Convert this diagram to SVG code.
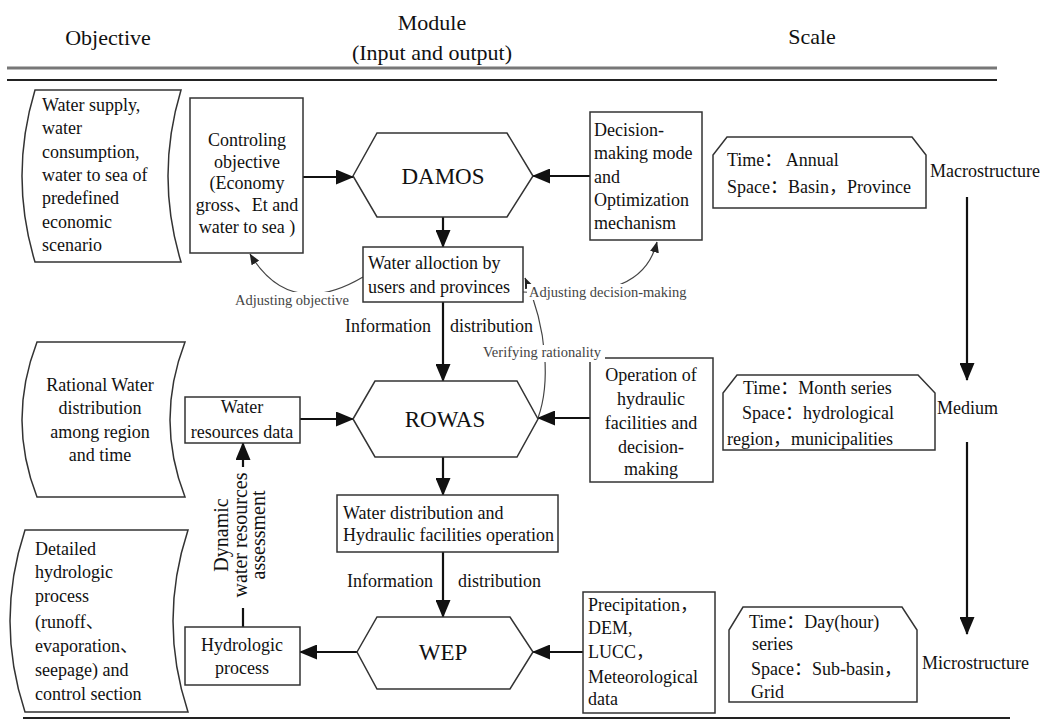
<svg xmlns="http://www.w3.org/2000/svg" width="1046" height="725" viewBox="0 0 1046 725">
<defs>
<style>
.box{fill:#fff;stroke:#333;stroke-width:1.5}
.t{font-family:"Liberation Serif","Noto Sans CJK SC",serif;font-size:18px;fill:#111}
.c{text-anchor:middle}
.big{font-size:23px}
.small{font-size:14.5px;fill:#444}
.hdr{font-size:22px}
.conn{stroke:#111;stroke-width:2.2;fill:none;marker-end:url(#ah)}
.curve{stroke:#444;stroke-width:1.2;fill:none;marker-end:url(#ahs)}
.plain{stroke:#111;stroke-width:2.2;fill:none}
.bg{fill:#fff}
</style>
<marker id="ah" viewBox="0 0 18 15" refX="17" refY="7.5" markerWidth="18" markerHeight="15" markerUnits="userSpaceOnUse" orient="auto"><path d="M0,0 L18,7.5 L0,15 Z" fill="#111"/></marker>
<marker id="ahs" viewBox="0 0 11 9" refX="10.5" refY="4.5" markerWidth="11" markerHeight="9" markerUnits="userSpaceOnUse" orient="auto"><path d="M0,0 L11,4.5 L0,9 Z" fill="#222"/></marker>
</defs>
<rect width="1046" height="725" fill="#fff"/>

<g id="header">
<text class="t hdr c" x="108" y="45">Objective</text>
<text class="t hdr c" x="432" y="30">Module</text>
<text class="t hdr c" x="432" y="60">(Input and output)</text>
<text class="t hdr c" x="812" y="44">Scale</text>
<line x1="7" y1="68" x2="997" y2="68" stroke="#777" stroke-width="3"/>
<line x1="7" y1="80" x2="997" y2="80" stroke="#222" stroke-width="2"/>
<line x1="23" y1="718" x2="1010" y2="718" stroke="#222" stroke-width="2"/>
</g>

<g id="connectors">
<path class="conn" d="M303,177 L353,177"/>
<path class="conn" d="M590,176 L533,176"/>
<path class="conn" d="M443,217 L443,247"/>
<path class="conn" d="M443,302 L443,381"/>
<path class="conn" d="M590,418 L538,418"/>
<path class="conn" d="M300,419 L353,419"/>
<path class="conn" d="M443,457 L443,495"/>
<path class="conn" d="M443,552 L443,617"/>
<path class="conn" d="M583,652 L533,652"/>
<path class="conn" d="M357,652 L300,652"/>
<path class="conn" d="M243,627 L243,443"/>
<path class="conn" d="M967,197 L967,380"/>
<path class="conn" d="M967,442 L967,634"/>
<path class="curve" d="M363,277 Q290,320 250,254"/>
<path class="curve" d="M523,292 C600,296 645,290 657,242"/>
<path class="curve" d="M538,418 C550,385 548,330 525,278"/>
</g>

<g id="obj1">
<path class="box" d="M35,90 L181,90 Q155,176 181,262 L35,262 Q9,176 35,90 Z"/>
<text class="t" x="42" y="111">Water supply,</text>
<text class="t" x="42" y="134">water</text>
<text class="t" x="42" y="158">consumption,</text>
<text class="t" x="42" y="181">water to sea of</text>
<text class="t" x="42" y="204">predefined</text>
<text class="t" x="42" y="228">economic</text>
<text class="t" x="42" y="251">scenario</text>
</g>

<g id="obj2">
<path class="box" d="M37,342 L185,342 Q155,420 185,497 L37,497 Q7,420 37,342 Z"/>
<text class="t c" x="100" y="391">Rational Water</text>
<text class="t c" x="100" y="414">distribution</text>
<text class="t c" x="100" y="438">among region</text>
<text class="t c" x="100" y="461">and time</text>
</g>

<g id="obj3">
<path class="box" d="M25,530 L188,530 Q158,621 188,712 L25,712 Q-5,621 25,530 Z"/>
<text class="t" x="35" y="555">Detailed</text>
<text class="t" x="35" y="578">hydrologic</text>
<text class="t" x="35" y="602">process</text>
<text class="t" x="35" y="628">(runoff、</text>
<text class="t" x="35" y="652">evaporation、</text>
<text class="t" x="35" y="676">seepage) and</text>
<text class="t" x="35" y="700">control section</text>
</g>

<g id="controling">
<rect class="box" x="190" y="98" width="113" height="155"/>
<text class="t c" x="247" y="146">Controling</text>
<text class="t c" x="247" y="168">objective</text>
<text class="t c" x="247" y="189">(Economy</text>
<text class="t c" x="247" y="211">gross、Et and</text>
<text class="t c" x="247" y="233">water to sea )</text>
</g>

<g id="damos">
<path class="box" d="M353,176 L377,133 L507,133 L533,176 L507,217 L377,217 Z"/>
<text class="t big c" x="443" y="184">DAMOS</text>
</g>

<g id="decision">
<rect class="box" x="590" y="112" width="112" height="128"/>
<text class="t" x="594" y="136">Decision-</text>
<text class="t" x="594" y="159">making mode</text>
<text class="t" x="594" y="183">and</text>
<text class="t" x="594" y="206">Optimization</text>
<text class="t" x="594" y="229">mechanism</text>
</g>

<g id="alloc">
<rect class="box" x="363" y="247" width="160" height="55"/>
<text class="t" x="368" y="269">Water alloction by</text>
<text class="t" x="368" y="293">users and provinces</text>
</g>

<g id="rowas">
<path class="box" d="M353,419 L375,381 L517,381 L538,419 L517,457 L375,457 Z"/>
<text class="t big c" x="445" y="427">ROWAS</text>
</g>

<g id="operation">
<rect class="box" x="590" y="358" width="123" height="124"/>
<text class="t c" x="651" y="381">Operation of</text>
<text class="t c" x="651" y="405">hydraulic</text>
<text class="t c" x="651" y="429">facilities and</text>
<text class="t c" x="651" y="453">decision-</text>
<text class="t c" x="651" y="475">making</text>
</g>

<g id="wrdata">
<rect class="box" x="185" y="397" width="115" height="46"/>
<text class="t c" x="242" y="413">Water</text>
<text class="t c" x="242" y="438">resources data</text>
</g>

<g id="wdist">
<rect class="box" x="337" y="495" width="221" height="57"/>
<text class="t" x="343" y="519">Water distribution and</text>
<text class="t" x="343" y="541">Hydraulic facilities operation</text>
</g>

<g id="wep">
<path class="box" d="M357,652 L377,617 L510,617 L533,652 L510,689 L377,689 Z"/>
<text class="t big c" x="443" y="660">WEP</text>
</g>

<g id="hydro">
<rect class="box" x="185" y="627" width="115" height="58"/>
<text class="t c" x="242" y="651">Hydrologic</text>
<text class="t c" x="242" y="674">process</text>
</g>

<g id="precip">
<rect class="box" x="583" y="592" width="132" height="121"/>
<text class="t" x="588" y="611">Precipitation，</text>
<text class="t" x="588" y="634">DEM,</text>
<text class="t" x="588" y="658">LUCC，</text>
<text class="t" x="588" y="683">Meteorological</text>
<text class="t" x="588" y="705">data</text>
</g>

<g id="labels">
<rect class="bg" x="233" y="292" width="119" height="16"/>
<text class="t small" x="235" y="305">Adjusting objective</text>
<rect class="bg" x="527" y="284" width="163" height="16"/>
<text class="t small" x="529" y="297">Adjusting decision-making</text>
<rect class="bg" x="481" y="345" width="124" height="17"/>
<text class="t small" x="483" y="357">Verifying rationality</text>
<text class="t" x="345" y="332">Information</text>
<text class="t" x="450" y="332">distribution</text>
<text class="t" x="347" y="587">Information</text>
<text class="t" x="458" y="587">distribution</text>
<rect class="bg" x="212" y="467" width="62" height="141"/>
<text class="t c" style="font-size:20px" transform="translate(228,535) rotate(-90)"><tspan x="0" y="0">Dynamic</tspan><tspan x="0" dy="18.5">water resources</tspan><tspan x="0" dy="18.5">assessment</tspan></text>
</g>

<g id="scale1">
<path class="box" d="M727,137 L912,137 L926,155 L926,208 L713,208 L713,155 Z"/>
<text class="t" x="727" y="166">Time： Annual</text>
<text class="t" x="727" y="193">Space：Basin，Province</text>
<text class="t" x="930" y="177">Macrostructure</text>
</g>

<g id="scale2">
<path class="box" d="M737,375 L918,375 L935,393 L935,450 L723,450 L723,393 Z"/>
<text class="t" x="743" y="394">Time：Month series</text>
<text class="t" x="742" y="419">Space：hydrological</text>
<text class="t" x="727" y="445">region，municipalities</text>
<text class="t" x="937" y="414">Medium</text>
</g>

<g id="scale3">
<path class="box" d="M743,607 L902,607 L917,630 L917,702 L729,702 L729,630 Z"/>
<text class="t" x="749" y="628">Time：Day(hour)</text>
<text class="t" x="752" y="650">series</text>
<text class="t" x="751" y="675">Space：Sub-basin，</text>
<text class="t" x="751" y="698">Grid</text>
<text class="t" x="922" y="669">Microstructure</text>
</g>
</svg>
